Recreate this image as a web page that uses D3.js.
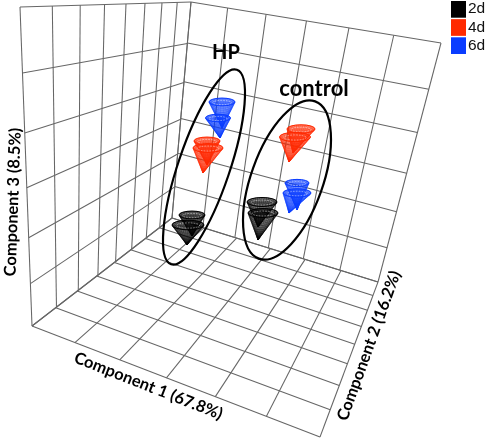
<!DOCTYPE html>
<html><head><meta charset="utf-8">
<script src="https://cdn.jsdelivr.net/npm/d3@7"></script>
<style>html,body{margin:0;padding:0;background:#fff}svg{display:block;filter:blur(0.35px)}</style>
</head><body><svg id="c" width="487" height="440"></svg>
<script>
// Grid cell counts
const comp1Ticks = d3.range(0, 7);   // floor, front edge
const comp2Ticks = d3.range(0, 9);   // floor, right edge
const comp3Ticks = d3.range(0, 7);   // vertical
// Box corners, in image units
const cornerFloorLeft  = [32, 326];
const cornerFloorFront = [320, 437];
const cornerFloorRight = [378, 282];
const cornerFloorBack  = [172, 218];
const cornerTopLeft    = [20, 7];
const cornerTopBack    = [191, 2];
const cornerTopRight   = [441, 43];
// Cones (image units): group, time point, rim centre, rim radius, apex
const coneGroup = ["HP","HP","HP","HP","HP","HP","control","control","control","control","control","control"];
const coneTime  = ["6d","6d","4d","4d","2d","2d","4d","4d","6d","6d","2d","2d"];
const coneRimX  = [222,218,207,208,192,188,301,295,297,297,262,263];
const coneRimY  = [102,118,141,148,215,225,129,137,183,193,202,213];
const coneRad   = [13,12.5,13,15,13,16,14,15.5,12,14,15,15];
const coneTipX  = [222,220,207,203,192,187,293,289,297,289,258,258];
const coneTipY  = [128,138,165,173,236,245,153,162,210,213,227,240];
// Group ellipses
const ringName = ["HP","control"];
const ringCx = [204,287];
const ringCy = [167,180];
const ringA  = [102.6,83.5];
const ringB  = [25.8,35.9];
const ringTilt = [18.7,19.7];
// Legend
const legendLabels = ["2d","4d","6d"];
const legendColors = ["#000000","#ff2a00","#0a3cff"];

const svg = d3.select("#c");
const color = d3.scaleOrdinal(legendLabels, legendColors);

// Projective map from the unit square to a quadrilateral p00,p10,p11,p01
function homography(p00,p10,p11,p01){
  const dx1=p10[0]-p11[0], dx2=p01[0]-p11[0], sx=p00[0]-p10[0]+p11[0]-p01[0];
  const dy1=p10[1]-p11[1], dy2=p01[1]-p11[1], sy=p00[1]-p10[1]+p11[1]-p01[1];
  const den=dx1*dy2-dx2*dy1;
  const g=(sx*dy2-dx2*sy)/den, h=(dx1*sy-sx*dy1)/den;
  const a=p10[0]-p00[0]+g*p10[0], b=p01[0]-p00[0]+h*p01[0], c=p00[0];
  const d=p10[1]-p00[1]+g*p10[1], e=p01[1]-p00[1]+h*p01[1], f=p00[1];
  return (u,v)=>{const w=g*u+h*v+1;return [(a*u+b*v+c)/w,(d*u+e*v+f)/w];};
}
const u1 = d3.scaleLinear().domain(d3.extent(comp1Ticks)).range([0,1]);
const u2 = d3.scaleLinear().domain(d3.extent(comp2Ticks)).range([0,1]);
const u3 = d3.scaleLinear().domain(d3.extent(comp3Ticks)).range([0,1]);

const floor = homography(cornerFloorLeft,cornerFloorFront,cornerFloorRight,cornerFloorBack);
const leftWall = homography(cornerFloorBack,cornerFloorLeft,cornerTopLeft,cornerTopBack);
const backWall = homography(cornerFloorBack,cornerFloorRight,cornerTopRight,cornerTopBack);

const line = d3.line();
const segs = [];
comp1Ticks.forEach(t=>segs.push([floor(u1(t),0),floor(u1(t),1)]));
comp2Ticks.forEach(t=>segs.push([floor(0,u2(t)),floor(1,u2(t))]));
comp2Ticks.forEach(t=>segs.push([leftWall(u2(t),0),leftWall(u2(t),1)]));
comp3Ticks.forEach(t=>segs.push([leftWall(0,u3(t)),leftWall(1,u3(t))]));
comp1Ticks.forEach(t=>segs.push([backWall(u1(t),0),backWall(u1(t),1)]));
comp3Ticks.forEach(t=>segs.push([backWall(0,u3(t)),backWall(1,u3(t))]));
svg.append("g").attr("fill","none").attr("stroke","#666").attr("stroke-width",1.05)
  .selectAll("path").data(segs).join("path").attr("d",line);

// Cones
const order = d3.range(coneGroup.length);
const gc = svg.append("g").attr("fill","none").attr("stroke-width",0.3);
const ringLevels = d3.range(0.1,1.001,0.06);
const spokes = d3.range(0,360,9).map(d=>d*Math.PI/180);
const flat = 0.3;
order.forEach(i=>{
  const col = color(coneTime[i]);
  const g = gc.append("g").attr("stroke",col);
  const pos = t=>[coneTipX[i]+(coneRimX[i]-coneTipX[i])*t, coneTipY[i]+(coneRimY[i]-coneTipY[i])*t];
  const dx = coneRad[i];
  g.append("path")
    .attr("d",line([[coneTipX[i],coneTipY[i]],[coneRimX[i]-dx,coneRimY[i]],[coneRimX[i]+dx,coneRimY[i]]])+"Z")
    .attr("fill",col).attr("fill-opacity",0.22).attr("stroke","none");
  g.append("ellipse").attr("cx",coneRimX[i]).attr("cy",coneRimY[i]).attr("rx",dx).attr("ry",dx*flat)
    .attr("fill",col).attr("fill-opacity",0.55).attr("stroke","none");
  ringLevels.forEach(t=>{
    const p=pos(t);
    g.append("ellipse").attr("cx",p[0]).attr("cy",p[1]).attr("rx",dx*t).attr("ry",dx*t*flat);
  });
  spokes.forEach(a=>{
    g.append("path").attr("d",line([[coneTipX[i],coneTipY[i]],
      [coneRimX[i]+dx*Math.cos(a),coneRimY[i]+dx*flat*Math.sin(a)]]));
  });
  g.append("ellipse").attr("cx",coneRimX[i]).attr("cy",coneRimY[i]).attr("rx",dx).attr("ry",dx*flat).attr("stroke-width",1);
  g.append("ellipse").attr("cx",coneRimX[i]).attr("cy",coneRimY[i]+0.5).attr("rx",dx*0.72).attr("ry",dx*flat*0.55)
    .attr("stroke","#fff").attr("stroke-width",0.6).attr("stroke-dasharray","1.6 1.2").attr("stroke-opacity",0.75);
});

// Group ellipses
svg.append("g").selectAll("ellipse").data(ringName).join("ellipse")
  .attr("rx",(d,i)=>ringB[i]).attr("ry",(d,i)=>ringA[i])
  .attr("transform",(d,i)=>`translate(${ringCx[i]},${ringCy[i]}) rotate(${ringTilt[i]})`)
  .attr("fill","none").attr("stroke","#000").attr("stroke-width",2.2);

// Annotations
const bold = (t,x,y,size,rot)=>svg.append("text").text(t)
  .attr("transform",`translate(${x},${y}) rotate(${rot})`)
  .attr("text-anchor","middle").attr("dominant-baseline","middle")
  .attr("font-family","Lato, 'Open Sans', sans-serif").attr("font-weight",700)
  .attr("font-size",size).attr("fill","#000");
bold("HP",226,54,20,0);
bold("control",314,90,22,0);
bold("Component 3 (8.5%)",14,202,16.4,-88);
bold("Component 1 (67.8%)",148,387,16.4,21.5);
bold("Component 2 (16.2%)",370,346,16.4,-70);

// Legend
const ly = d3.scaleBand().domain(legendLabels).range([1,54]).paddingInner(0.08);
const lg = svg.append("g");
lg.selectAll("rect").data(legendLabels).join("rect")
  .attr("x",451).attr("y",d=>ly(d)).attr("width",15).attr("height",ly.bandwidth())
  .attr("fill",d=>color(d));
lg.selectAll("text").data(legendLabels).join("text").text(d=>d)
  .attr("x",468).attr("y",d=>ly(d)+ly.bandwidth()/2).attr("dominant-baseline","middle")
  .attr("font-family","Liberation Sans, Arial, sans-serif").attr("font-size",15.5).attr("fill","#111");
</script></body></html>
